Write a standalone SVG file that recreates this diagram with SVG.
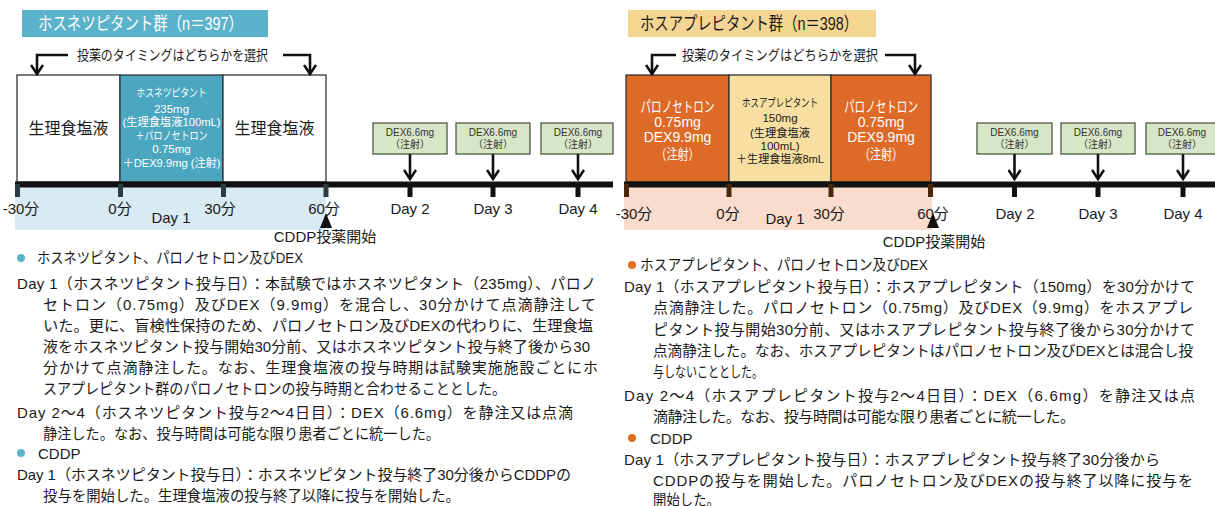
<svg xmlns="http://www.w3.org/2000/svg" width="1215" height="506" viewBox="0 0 1215 506">
<style>
text{font-family:"Liberation Sans","Noto Sans CJK JP",sans-serif;fill:#1a1a1a}
.body{font-size:15px}
.title{font-size:18px}
.brk{font-size:14px}
.lbl{font-size:15px;text-anchor:middle}
.box{stroke:#333;stroke-width:1.3}
.dex{fill:#d7e6c6;stroke:#4d5a44;stroke-width:1.3}
.dext{font-size:10px;text-anchor:middle;fill:#333}
.conn{fill:none;stroke:#111;stroke-width:2.6}
.mid{text-anchor:middle}
.wt{fill:#fff}
</style>
<defs>
<marker id="chev" viewBox="0 0 12 14" refX="10" refY="7" markerWidth="12" markerHeight="14" markerUnits="userSpaceOnUse" orient="auto">
<path d="M1,1 L10,7 L1,13" fill="none" stroke="#111" stroke-width="2.6"/>
</marker>
</defs>

<!-- LEFT PANEL -->
<g id="left-header">
<rect x="22" y="10" width="246" height="27" fill="#5bb3cb"/>
<text class="title wt" x="38" y="30" textLength="205" lengthAdjust="spacingAndGlyphs">ホスネツピタント群（n＝397）</text>
</g>
<g id="left-bracket-label">
<text class="brk" x="77" y="60" textLength="191" lengthAdjust="spacingAndGlyphs">投薬のタイミングはどちらかを選択</text>
</g>
<g id="left-band"><rect x="15" y="186" width="311" height="44" fill="#d8eaf2"/></g>
<g id="left-saline1">
<rect class="box" x="17" y="75" width="103" height="107" fill="#fff"/>
<text class="mid" x="68.5" y="134" font-size="16">生理食塩液</text>
</g>
<g id="left-fosnetupitant">
<rect class="box" x="120" y="75" width="103" height="107" fill="#4ba6c0"/>
<g font-size="11.5" class="wt">
<text class="mid wt" x="171.5" y="97" textLength="70" lengthAdjust="spacingAndGlyphs">ホスネツピタント</text>
<text class="mid wt" x="171.5" y="113">235mg</text>
<text class="mid wt" x="171.5" y="126" textLength="98" lengthAdjust="spacingAndGlyphs">(生理食塩液100mL)</text>
<text class="mid wt" x="171.5" y="140" textLength="72" lengthAdjust="spacingAndGlyphs">＋パロノセトロン</text>
<text class="mid wt" x="171.5" y="153">0.75mg</text>
<text class="mid wt" x="171.5" y="167" textLength="98" lengthAdjust="spacingAndGlyphs">＋DEX9.9mg (注射)</text>
</g>
</g>
<g id="left-saline2">
<rect class="box" x="223" y="75" width="103" height="107" fill="#fff"/>
<text class="mid" x="274.5" y="134" font-size="16">生理食塩液</text>
</g>
<g id="left-dex2">
<rect class="dex" x="373" y="123" width="74" height="31"/>
<text class="dext" x="410" y="136">DEX6.6mg</text>
<text class="dext" x="410" y="148">（注射）</text>
</g>
<g id="left-dex3">
<rect class="dex" x="456" y="123" width="74" height="31"/>
<text class="dext" x="493" y="136">DEX6.6mg</text>
<text class="dext" x="493" y="148">（注射）</text>
</g>
<g id="left-dex4">
<rect class="dex" x="541" y="123" width="72" height="31"/>
<text class="dext" x="578" y="136">DEX6.6mg</text>
<text class="dext" x="578" y="148">（注射）</text>
</g>
<g id="left-timeline">
<rect x="15" y="181.5" width="598" height="6" fill="#111"/>
<g fill="#2a3c44">
<rect x="15" y="184" width="5" height="13"/>
<rect x="118" y="184" width="5" height="13"/>
<rect x="221" y="184" width="5" height="13"/>
<rect x="323.5" y="184" width="5" height="13"/>
</g>
<g fill="#111">
<rect x="407.5" y="184" width="5" height="13"/>
<rect x="490.5" y="184" width="5" height="13"/>
<rect x="575.5" y="184" width="5" height="13"/>
</g>
<text class="lbl" x="21" y="214">-30分</text>
<text class="lbl" x="120" y="214">0分</text>
<text class="lbl" x="220" y="214">30分</text>
<text class="lbl" x="324" y="214">60分</text>
<text class="lbl" x="171" y="223">Day 1</text>
<text class="lbl" x="410" y="214">Day 2</text>
<text class="lbl" x="493" y="214">Day 3</text>
<text class="lbl" x="578" y="214">Day 4</text>
</g>
<g id="left-cddp">
<polygon points="326,213 320,228 332,228" fill="#111"/>
<text class="lbl" x="325" y="242">CDDP投薬開始</text>
</g>

<!-- RIGHT PANEL -->
<g id="right-header">
<rect x="628" y="10" width="248" height="27" fill="#f5d592"/>
<text class="title" x="640" y="30" textLength="218" lengthAdjust="spacingAndGlyphs">ホスアプレピタント群（n＝398）</text>
</g>
<g id="right-bracket-label">
<text class="brk" x="682" y="60" textLength="196" lengthAdjust="spacingAndGlyphs">投薬のタイミングはどちらかを選択</text>
</g>
<g id="right-band"><rect x="624" y="186" width="308" height="44" fill="#f9dccb"/></g>
<g id="right-palono1">
<rect class="box" x="626" y="75" width="103" height="107" fill="#dd6a26"/>
<text class="mid wt" x="677.5" y="112" font-size="15" textLength="74" lengthAdjust="spacingAndGlyphs">パロノセトロン</text>
<text class="mid wt" x="677.5" y="127" font-size="14">0.75mg</text>
<text class="mid wt" x="677.5" y="142" font-size="14">DEX9.9mg</text>
<text class="mid wt" x="677.5" y="159" font-size="14" textLength="44" lengthAdjust="spacingAndGlyphs">（注射）</text>
</g>
<g id="right-fosaprepitant">
<rect class="box" x="729" y="75" width="102" height="107" fill="#f7dfa1"/>
<g font-size="11.5">
<text class="mid" x="780" y="107" textLength="76" lengthAdjust="spacingAndGlyphs">ホスアプレピタント</text>
<text class="mid" x="780" y="122">150mg</text>
<text class="mid" x="780" y="137" textLength="60" lengthAdjust="spacingAndGlyphs">(生理食塩液</text>
<text class="mid" x="780" y="150">100mL)</text>
<text class="mid" x="780" y="163" textLength="88" lengthAdjust="spacingAndGlyphs">＋生理食塩液8mL</text>
</g>
</g>
<g id="right-palono2">
<rect class="box" x="831" y="75" width="100" height="107" fill="#dd6a26"/>
<text class="mid wt" x="881" y="112" font-size="15" textLength="74" lengthAdjust="spacingAndGlyphs">パロノセトロン</text>
<text class="mid wt" x="881" y="127" font-size="14">0.75mg</text>
<text class="mid wt" x="881" y="142" font-size="14">DEX9.9mg</text>
<text class="mid wt" x="881" y="159" font-size="14" textLength="44" lengthAdjust="spacingAndGlyphs">（注射）</text>
</g>
<g id="right-dex2">
<rect class="dex" x="977" y="123" width="75" height="31"/>
<text class="dext" x="1014.5" y="136">DEX6.6mg</text>
<text class="dext" x="1014.5" y="148">（注射）</text>
</g>
<g id="right-dex3">
<rect class="dex" x="1061" y="123" width="74" height="31"/>
<text class="dext" x="1098" y="136">DEX6.6mg</text>
<text class="dext" x="1098" y="148">（注射）</text>
</g>
<g id="right-dex4">
<rect class="dex" x="1146" y="123" width="74" height="31"/>
<text class="dext" x="1182" y="136">DEX6.6mg</text>
<text class="dext" x="1182" y="148">（注射）</text>
</g>
<g id="right-timeline">
<rect x="624" y="181.5" width="591" height="6" fill="#111"/>
<g fill="#4a2810">
<rect x="624" y="184" width="5" height="13"/>
<rect x="726.5" y="184" width="5" height="13"/>
<rect x="828.5" y="184" width="5" height="13"/>
<rect x="928" y="184" width="5" height="13"/>
</g>
<g fill="#111">
<rect x="1012" y="184" width="5" height="13"/>
<rect x="1095.5" y="184" width="5" height="13"/>
<rect x="1180.5" y="184" width="5" height="13"/>
</g>
<text class="lbl" x="634" y="219">-30分</text>
<text class="lbl" x="728" y="219">0分</text>
<text class="lbl" x="829" y="219">30分</text>
<text class="lbl" x="933" y="219">60分</text>
<text class="lbl" x="785" y="224">Day 1</text>
<text class="lbl" x="1015" y="219">Day 2</text>
<text class="lbl" x="1098" y="219">Day 3</text>
<text class="lbl" x="1183" y="219">Day 4</text>
</g>
<g id="right-cddp">
<polygon points="933,213 927,228 939,228" fill="#111"/>
<text class="lbl" x="934" y="247">CDDP投薬開始</text>
</g>

<!-- CONNECTORS -->
<g id="connectors">
<path class="conn" d="M68,55 H37 V74" marker-end="url(#chev)"/>
<path class="conn" d="M283,55 H310 V74" marker-end="url(#chev)"/>
<path class="conn" d="M676,55 H652 V74" marker-end="url(#chev)"/>
<path class="conn" d="M885,55 H915 V74" marker-end="url(#chev)"/>
<path class="conn" d="M410,154 V179" marker-end="url(#chev)"/>
<path class="conn" d="M493,154 V179" marker-end="url(#chev)"/>
<path class="conn" d="M578,154 V179" marker-end="url(#chev)"/>
<path class="conn" d="M1014.5,154 V179" marker-end="url(#chev)"/>
<path class="conn" d="M1098,154 V179" marker-end="url(#chev)"/>
<path class="conn" d="M1183,154 V179" marker-end="url(#chev)"/>
</g>

<!-- LEFT NOTES -->
<g id="left-notes" class="body">
<circle cx="21" cy="258" r="4" fill="#5bb3cb"/>
<text class="body" x="37" y="263" textLength="266" lengthAdjust="spacingAndGlyphs">ホスネツピタント、パロノセトロン及びDEX</text>
<text class="body" x="17" y="289" textLength="579" lengthAdjust="spacing">Day 1（ホスネツピタント投与日）：本試験ではホスネツピタント（235mg）、パロノ</text>
<text class="body" x="43" y="310" textLength="553" lengthAdjust="spacing">セトロン（0.75mg）及びDEX（9.9mg）を混合し、30分かけて点滴静注して</text>
<text class="body" x="43" y="331" textLength="550" lengthAdjust="spacingAndGlyphs">いた。更に、盲検性保持のため、パロノセトロン及びDEXの代わりに、生理食塩</text>
<text class="body" x="43" y="352" textLength="547" lengthAdjust="spacing">液をホスネツピタント投与開始30分前、又はホスネツピタント投与終了後から30</text>
<text class="body" x="43" y="373" textLength="555" lengthAdjust="spacing">分かけて点滴静注した。なお、生理食塩液の投与時期は試験実施施設ごとにホ</text>
<text class="body" x="43" y="394" textLength="463" lengthAdjust="spacingAndGlyphs">スアプレピタント群のパロノセトロンの投与時期と合わせることとした。</text>
<text class="body" x="17" y="418" textLength="556" lengthAdjust="spacing">Day 2～4（ホスネツピタント投与2～4日目）：DEX（6.6mg）を静注又は点滴</text>
<text class="body" x="43" y="439" textLength="397" lengthAdjust="spacingAndGlyphs">静注した。なお、投与時間は可能な限り患者ごとに統一した。</text>
<circle cx="21" cy="453" r="4" fill="#5bb3cb"/>
<text class="body" x="38" y="459">CDDP</text>
<text class="body" x="17" y="480" textLength="554" lengthAdjust="spacing">Day 1（ホスネツピタント投与日）：ホスネツピタント投与終了30分後からCDDPの</text>
<text class="body" x="43" y="501" textLength="417" lengthAdjust="spacingAndGlyphs">投与を開始した。生理食塩液の投与終了以降に投与を開始した。</text>
</g>

<!-- RIGHT NOTES -->
<g id="right-notes" class="body">
<circle cx="632" cy="265" r="4" fill="#e07020"/>
<text class="body" x="640" y="270" textLength="288" lengthAdjust="spacingAndGlyphs">ホスアプレピタント、パロノセトロン及びDEX</text>
<text class="body" x="624" y="292" textLength="571" lengthAdjust="spacing">Day 1（ホスアプレピタント投与日）：ホスアプレピタント（150mg）を30分かけて</text>
<text class="body" x="653" y="313" textLength="540" lengthAdjust="spacing">点滴静注した。パロノセトロン（0.75mg）及びDEX（9.9mg）をホスアプレ</text>
<text class="body" x="653" y="335" textLength="542" lengthAdjust="spacing">ピタント投与開始30分前、又はホスアプレピタント投与終了後から30分かけて</text>
<text class="body" x="653" y="356" textLength="540" lengthAdjust="spacingAndGlyphs">点滴静注した。なお、ホスアプレピタントはパロノセトロン及びDEXとは混合し投</text>
<text class="body" x="653" y="377" textLength="110" lengthAdjust="spacingAndGlyphs">与しないこととした。</text>
<text class="body" x="624" y="401" textLength="571" lengthAdjust="spacing">Day 2～4（ホスアプレピタント投与2～4日目）：DEX（6.6mg）を静注又は点</text>
<text class="body" x="653" y="422" textLength="422" lengthAdjust="spacing">滴静注した。なお、投与時間は可能な限り患者ごとに統一した。</text>
<circle cx="632" cy="438" r="4" fill="#e07020"/>
<text class="body" x="650" y="444">CDDP</text>
<text class="body" x="624" y="465" textLength="536" lengthAdjust="spacing">Day 1（ホスアプレピタント投与日）：ホスアプレピタント投与終了30分後から</text>
<text class="body" x="653" y="486" textLength="540" lengthAdjust="spacing">CDDPの投与を開始した。パロノセトロン及びDEXの投与終了以降に投与を</text>
<text class="body" x="653" y="505" textLength="67" lengthAdjust="spacingAndGlyphs">開始した。</text>
</g>
</svg>
